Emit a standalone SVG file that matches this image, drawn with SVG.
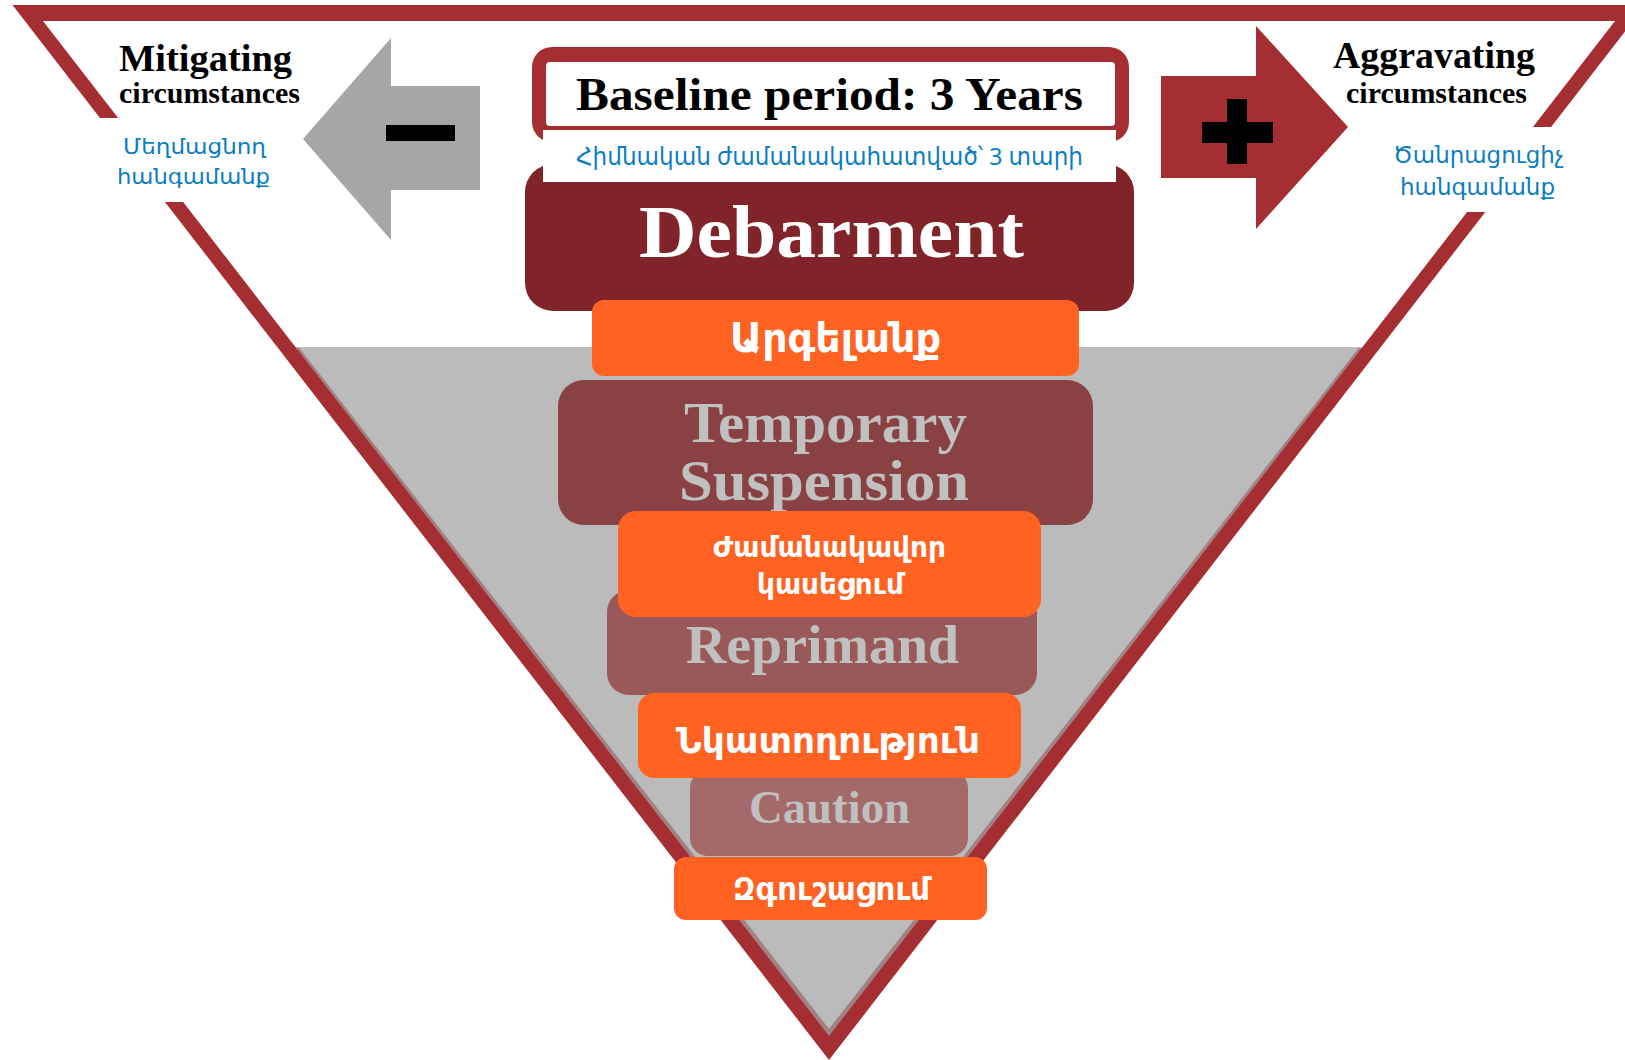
<svg xmlns="http://www.w3.org/2000/svg" width="1625" height="1060" viewBox="0 0 1625 1060">
<style>
.serif{font-family:"Liberation Serif","DejaVu Serif",serif;font-weight:bold}
.arm{font-family:"Noto Sans","DejaVu Sans",sans-serif}
.blue{fill:#0B7DC2}
.wb{fill:#FFFFFF;font-weight:bold}
.gt{fill:#C0C0C0}
.orange{fill:#FF6221}
</style>
<rect width="1625" height="1060" fill="#FFFFFF"/>
<g id="pyramid">
<polygon points="291,347 1367,347 829,1045" fill="#BBBBBB"/>
<polyline points="297,349 829,1033 1361,349" fill="none" stroke="#8C5254" stroke-width="5" stroke-opacity="0.55"/>
<path d="M12.5,5 L1645.5,5 L829,1060 Z M43,21 L1615,21 L829,1036 Z" fill="#A52E32" fill-rule="evenodd"/>
</g>
<g id="mitigating">
<polygon points="303,139 391,38 391,86 480,86 480,190 391,190 391,240" fill="#A6A6A6"/>
<rect x="386" y="125" width="69" height="16" fill="#000000"/>
<rect x="90" y="118" width="195" height="84" fill="#FFFFFF"/>
<text class="serif" x="119" y="71" font-size="37" textLength="173" lengthAdjust="spacingAndGlyphs">Mitigating</text>
<text class="serif" x="119" y="103" font-size="29" textLength="181" lengthAdjust="spacingAndGlyphs">circumstances</text>
<text class="arm blue" x="123" y="154" font-size="22" textLength="143" lengthAdjust="spacingAndGlyphs">Մեղմացնող</text>
<text class="arm blue" x="117" y="184" font-size="22" textLength="153" lengthAdjust="spacingAndGlyphs">հանգամանք</text>
</g>
<g id="aggravating">
<polygon points="1161,76 1256,76 1256,26 1348,127 1256,229 1256,178 1161,178" fill="#A52E32"/>
<rect x="1227" y="99" width="20" height="65" fill="#000000"/>
<rect x="1202" y="122" width="71" height="21" fill="#000000"/>
<rect x="1380" y="127" width="210" height="85" fill="#FFFFFF"/>
<text class="serif" x="1333" y="68" font-size="37" textLength="202" lengthAdjust="spacingAndGlyphs">Aggravating</text>
<text class="serif" x="1346" y="103" font-size="29" textLength="181" lengthAdjust="spacingAndGlyphs">circumstances</text>
<text class="arm blue" x="1393" y="163" font-size="23" textLength="171" lengthAdjust="spacingAndGlyphs">Ծանրացուցիչ</text>
<text class="arm blue" x="1400" y="195" font-size="23" textLength="155" lengthAdjust="spacingAndGlyphs">հանգամանք</text>
</g>
<g id="baseline">
<rect x="532" y="47" width="597" height="95" rx="20" fill="#A52E32"/>
<rect x="546" y="62" width="569" height="64" rx="4" fill="#FFFFFF"/>
<text class="serif" x="576" y="110" font-size="46" textLength="507" lengthAdjust="spacingAndGlyphs">Baseline period: 3 Years</text>
</g>
<g id="debarment">
<rect x="525" y="164" width="609" height="147" rx="28" fill="#80242A"/>
<text class="serif" x="639" y="257" font-size="75" fill="#FFFFFF" textLength="385" lengthAdjust="spacingAndGlyphs">Debarment</text>
</g>
<g id="baseline-am">
<rect x="543" y="130" width="573" height="52" fill="#FFFFFF"/>
<text class="arm blue" x="576" y="165" font-size="24" textLength="507" lengthAdjust="spacingAndGlyphs">Հիմնական ժամանակահատված՝ 3 տարի</text>
</g>
<g id="debarment-am">
<rect class="orange" x="592" y="300" width="487" height="76" rx="12"/>
<text class="arm wb" x="730" y="352" font-size="40" textLength="211" lengthAdjust="spacingAndGlyphs">Արգելանք</text>
</g>
<g id="temporary-suspension">
<rect x="558" y="380" width="535" height="145" rx="26" fill="#894144"/>
<text class="serif gt" x="684" y="442" font-size="56" textLength="283" lengthAdjust="spacingAndGlyphs">Temporary</text>
<text class="serif gt" x="679" y="500" font-size="56" textLength="290" lengthAdjust="spacingAndGlyphs">Suspension</text>
</g>
<g id="reprimand">
<rect x="607" y="590" width="430" height="105" rx="22" fill="#985958"/>
<text class="serif gt" x="686" y="663" font-size="54" textLength="273" lengthAdjust="spacingAndGlyphs">Reprimand</text>
</g>
<g id="temporary-suspension-am">
<rect class="orange" x="618" y="511" width="423" height="106" rx="18"/>
<text class="arm wb" x="713" y="557" font-size="28" textLength="233" lengthAdjust="spacingAndGlyphs">Ժամանակավոր</text>
<text class="arm wb" x="757" y="594" font-size="28" textLength="147" lengthAdjust="spacingAndGlyphs">կասեցում</text>
</g>
<g id="caution">
<rect x="690" y="770" width="278" height="86" rx="18" fill="#A46A6A"/>
<text class="serif gt" x="749" y="823" font-size="46" textLength="161" lengthAdjust="spacingAndGlyphs">Caution</text>
</g>
<g id="reprimand-am">
<rect class="orange" x="638" y="693" width="383" height="85" rx="16"/>
<text class="arm wb" x="676" y="753" font-size="36" textLength="304" lengthAdjust="spacingAndGlyphs">Նկատողություն</text>
</g>
<g id="caution-am">
<rect class="orange" x="674" y="857" width="313" height="63" rx="12"/>
<text class="arm wb" x="733" y="900" font-size="32" textLength="197" lengthAdjust="spacingAndGlyphs">Զգուշացում</text>
</g>
<g id="connectors"/>
</svg>
